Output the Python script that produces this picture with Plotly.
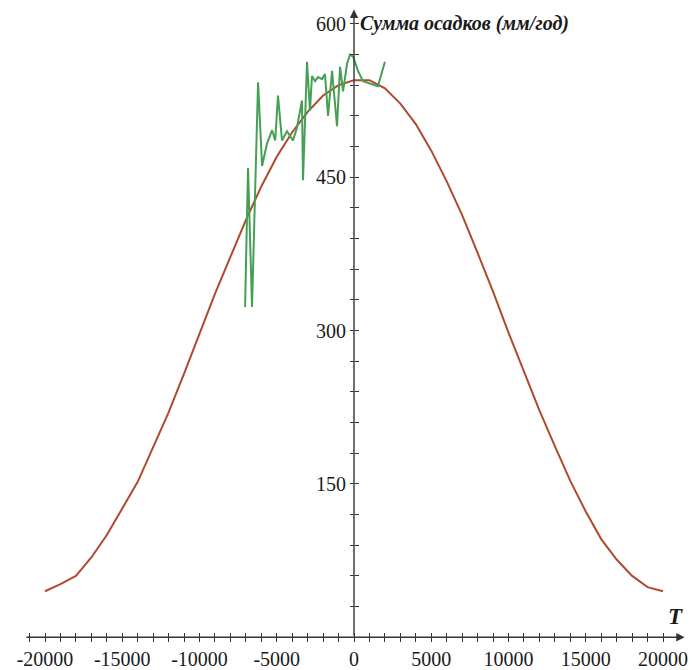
import plotly.graph_objects as go

# ---- data ----
model_T = [-20000, -19000, -18000, -17000, -16000, -15000, -14000, -13000, -12000, -11000,
           -10000, -9000, -8000, -7000, -6000, -5000, -4000, -3000, -2000, -1000,
           0, 1000, 2000, 3000, 4000, 5000, 6000, 7000, 8000, 9000,
           10000, 11000, 12000, 13000, 14000, 15000, 16000, 17000, 18000, 19000, 20000]
model_P = [45, 52, 60, 78, 100, 126, 152, 186, 220, 258,
           297, 336, 372, 408, 441, 470, 494, 514, 530, 540,
           545, 545, 537, 522, 502, 476, 446, 413, 376, 338,
           298, 260, 222, 187, 153, 123, 96, 76, 60, 49, 45]

obs_T = [-7050, -6860, -6600, -6210, -5950, -5630, -5300, -5100, -4920, -4660,
         -4340, -3950, -3700, -3370, -3300, -3040, -2850, -2720, -2520, -2330,
         -2070, -1880, -1680, -1420, -1230, -1100, -900, -710, -450, -260,
         -60, 260, 580, 1170, 1550, 2000]
obs_P = [323, 459, 323, 543, 461, 483, 496, 486, 530, 486,
         495, 486, 498, 525, 447, 563, 515, 549, 544, 548,
         546, 551, 510, 554, 522, 500, 558, 534, 561, 570,
         568, 554, 544, 541, 539, 563]

x_tick_vals = list(range(-21000, 21000, 1000))
x_tick_labels = {-20000: "-20000", -15000: "-15000", -10000: "-10000", -5000: "-5000",
                 0: "0", 5000: "5000", 10000: "10000", 15000: "15000", 20000: "20000"}
y_tick_vals = list(range(30, 601, 30))
y_tick_labels = {150: "150", 300: "300", 450: "450", 600: "600"}

y_title = "Сумма осадков (мм/год)"
x_title = "T"

# ---- layout constants ----
W, H = 695, 670
X_RANGE = [-22913, 22071]
Y_RANGE = [-25.2, 623.4]
x_pos = (0 - Y_RANGE[0]) / (Y_RANGE[1] - Y_RANGE[0])   # where y=0 lies (paper fraction)
y_pos = (0 - X_RANGE[0]) / (X_RANGE[1] - X_RANGE[0])   # where x=0 lies

serif = "Liberation Serif, Times New Roman, serif"
tick_font = dict(family=serif, size=20, color="#1a1a1a")

fig = go.Figure()
fig.add_trace(go.Scatter(x=model_T, y=model_P, mode="lines",
                         line=dict(color="#b04a2e", width=2), showlegend=False))
fig.add_trace(go.Scatter(x=obs_T, y=obs_P, mode="lines",
                         line=dict(color="#45a055", width=2), showlegend=False))

xt_text = [x_tick_labels.get(v, "") for v in x_tick_vals]
yt_text = [y_tick_labels.get(v, "") for v in y_tick_vals]

fig.update_layout(
    width=W, height=H,
    margin=dict(l=0, r=0, t=0, b=0),
    paper_bgcolor="white", plot_bgcolor="white",
    xaxis=dict(range=X_RANGE, anchor="free", position=x_pos, side="bottom",
               showgrid=False, zeroline=False, showline=False,
               tickmode="array", tickvals=x_tick_vals, ticktext=xt_text,
               ticks="outside", ticklen=4, tickwidth=1, tickcolor="#333",
               tickfont=tick_font),
    xaxis2=dict(range=X_RANGE, overlaying="x", anchor="free", position=x_pos, side="top",
                showgrid=False, zeroline=False, showline=False,
                tickmode="array", tickvals=x_tick_vals, showticklabels=False,
                ticks="outside", ticklen=4, tickwidth=1, tickcolor="#333"),
    yaxis=dict(range=Y_RANGE, anchor="free", position=y_pos, side="left",
               showgrid=False, zeroline=False, showline=False,
               tickmode="array", tickvals=y_tick_vals, ticktext=yt_text,
               ticks="outside", ticklen=4, tickwidth=1, tickcolor="#333",
               tickfont=tick_font),
    yaxis2=dict(range=Y_RANGE, overlaying="y", anchor="free", position=y_pos, side="right",
                showgrid=False, zeroline=False, showline=False,
                tickmode="array", tickvals=y_tick_vals, showticklabels=False,
                ticks="outside", ticklen=4, tickwidth=1, tickcolor="#333"),
)
# dummy trace so the overlay axes render
fig.add_trace(go.Scatter(x=[None], y=[None], xaxis="x2", yaxis="y2", showlegend=False, hoverinfo="skip"))

# axis lines with arrowheads
fig.add_annotation(x=21400, y=0, ax=-21300, ay=0, xref="x", yref="y", axref="x", ayref="y",
                   text="", showarrow=True, arrowhead=2, arrowsize=1.2, arrowwidth=1.4,
                   arrowcolor="#333")
fig.add_annotation(x=0, y=614, ax=0, ay=0, xref="x", yref="y", axref="x", ayref="y",
                   text="", showarrow=True, arrowhead=2, arrowsize=1.2, arrowwidth=1.4,
                   arrowcolor="#333")

fig.add_annotation(x=250, y=600, xref="x", yref="y", xanchor="left", yanchor="middle",
                   text=y_title, showarrow=False,
                   font=dict(family=serif, size=20, color="#1a1a1a", weight="bold", style="italic"))
fig.add_annotation(x=20800, y=6, xref="x", yref="y", xanchor="center", yanchor="bottom",
                   text=x_title, showarrow=False,
                   font=dict(family=serif, size=23, color="#1a1a1a", weight="bold", style="italic"))

fig.write_html("out.html", config={"displayModeBar": False},
               post_script="document.body.style.margin='0';")
